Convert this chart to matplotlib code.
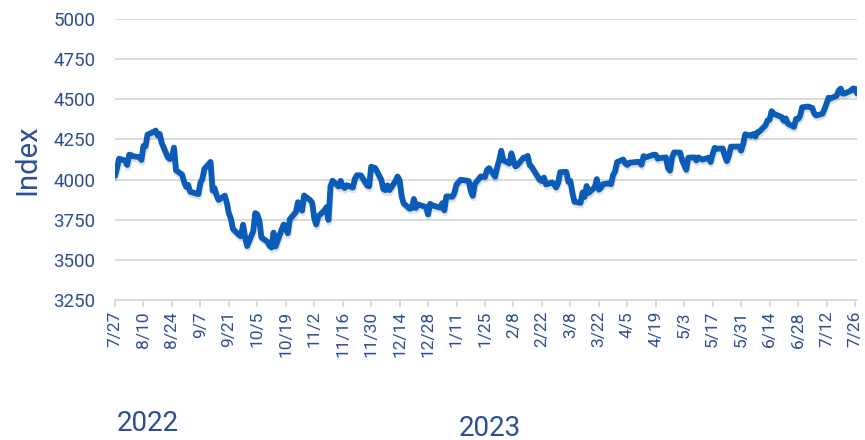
import pandas as pd
import matplotlib.pyplot as plt
import matplotlib.patheffects as pe

plt.rcParams['font.family'] = ['Roboto', 'DejaVu Sans']

# daily closes, one list per month
jul22 = [4023, 4072, 4130]
aug22 = [4118, 4091, 4155, 4152, 4145, 4140, 4122, 4210, 4207, 4280, 4297, 4305,
         4275, 4284, 4228, 4138, 4128, 4141, 4199, 4058, 4031, 3986, 3955]
sep22 = [3967, 3924, 3909, 3980, 4006, 4067, 4110, 3932, 3946, 3901, 3873, 3900,
         3856, 3790, 3758, 3693, 3655, 3647, 3719, 3640, 3586]
oct22 = [3679, 3791, 3783, 3745, 3640, 3612, 3589, 3577, 3670, 3583, 3690, 3720,
         3695, 3666, 3753, 3798, 3859, 3831, 3807, 3901, 3872]
nov22 = [3856, 3760, 3720, 3771, 3807, 3828, 3749, 3956, 3993, 3957, 3992, 3959,
         3947, 3965, 3950, 4004, 4027, 4026, 3964, 3958, 4080]
dec22 = [4076, 4072, 3999, 3941, 3934, 3964, 3934, 3991, 4019, 3996, 3896, 3852,
         3818, 3822, 3879, 3823, 3845, 3829, 3783, 3849, 3840]
jan23 = [3825, 3853, 3808, 3895, 3893, 3919, 3970, 3983, 3999, 3991, 3929, 3899,
         3973, 4020, 4017, 4016, 4060, 4071, 4018, 4077]
feb23 = [4120, 4180, 4120, 4100, 4164, 4118, 4082, 4090, 4137, 4136, 4148, 4090,
         4079, 3997, 3991, 4012, 3970, 3982, 3970]
mar23 = [3951, 3981, 4046, 4048, 3986, 3992, 3918, 3862, 3855, 3920, 3892, 3960,
         3917, 3952, 4003, 3937, 3948, 3971, 3977, 3971, 4028, 4051, 4109]
apr23 = [4125, 4101, 4091, 4105, 4110, 4108, 4092, 4146, 4138, 4151, 4155, 4154,
         4130, 4134, 4138, 4072, 4056, 4136, 4169]
may23 = [4168, 4120, 4091, 4061, 4136, 4138, 4119, 4138, 4131, 4124, 4136, 4110,
         4159, 4198, 4192, 4193, 4146, 4115, 4151, 4205, 4206, 4180]
jun23 = [4221, 4282, 4273, 4284, 4268, 4294, 4299, 4338, 4369, 4373, 4426, 4410,
         4389, 4366, 4381, 4348, 4328, 4378, 4377, 4396, 4450]
jul23 = [4455, 4446, 4411, 4399, 4410, 4439, 4472, 4510, 4505, 4522, 4555, 4566,
         4535, 4536, 4554, 4567, 4566, 4537]

holidays = ['2022-09-05', '2022-11-24', '2022-12-26', '2023-01-02', '2023-01-16',
            '2023-02-20', '2023-04-07', '2023-05-29', '2023-06-19', '2023-07-04']

y_ticks = [3250, 3500, 3750, 4000, 4250, 4500, 4750, 5000]
year_labels = ['2022', '2023']

values = (jul22 + aug22 + sep22 + oct22 + nov22 + dec22 + jan23 + feb23 + mar23
          + apr23 + may23 + jun23 + jul23)
dates = pd.bdate_range('2022-07-27', '2023-07-27', freq='C', holidays=holidays)
assert len(dates) == len(values), (len(dates), len(values))

line_c = '#0a5cb8'
text_c = '#2c4e96'
grid_c = '#d9d9d9'

fig = plt.figure(figsize=(8.65, 4.40), dpi=100)
ax = fig.add_axes([115 / 865, 1 - 300 / 440, 742 / 865, 281 / 440])

ax.plot(dates, values, color=line_c, lw=4.2, solid_capstyle='round',
        solid_joinstyle='round',
        path_effects=[pe.SimpleLineShadow(offset=(0.5, -2), alpha=0.18, shadow_color='#555555'),
                      pe.Normal()])

ax.set_ylim(3250, 5000)
ax.set_yticks(y_ticks)
ax.set_xlim(pd.Timestamp('2022-07-27'), pd.Timestamp('2023-07-27'))
ticks = pd.date_range('2022-07-27', '2023-07-26', freq='14D')
ax.set_xticks(ticks)
ax.set_xticklabels([f'{d.month}/{d.day}' for d in ticks], rotation=90,
                   ha='center', va='top')

ax.grid(axis='y', color=grid_c, lw=1.3)
ax.set_axisbelow(True)
for s in ['top', 'right', 'left']:
    ax.spines[s].set_visible(False)
ax.spines['bottom'].set_color(grid_c)
ax.spines['bottom'].set_linewidth(1.3)

ax.tick_params(axis='y', length=0, pad=14, labelsize=13.5, labelcolor=text_c)
ax.tick_params(axis='x', length=5, width=1.3, color=grid_c, pad=3,
               labelsize=12.5, labelcolor=text_c)

# y axis title
fig.text(27 / 865, 1 - 160 / 440, 'Index', rotation=90, fontsize=21,
         color=text_c, ha='center', va='center')

fig.text(148 / 865, 1 - 423 / 440, year_labels[0], fontsize=20, color=text_c,
         ha='center', va='center')
fig.text(490 / 865, 1 - 428 / 440, year_labels[1], fontsize=20, color=text_c,
         ha='center', va='center')

fig.savefig('out.png', dpi=100)
